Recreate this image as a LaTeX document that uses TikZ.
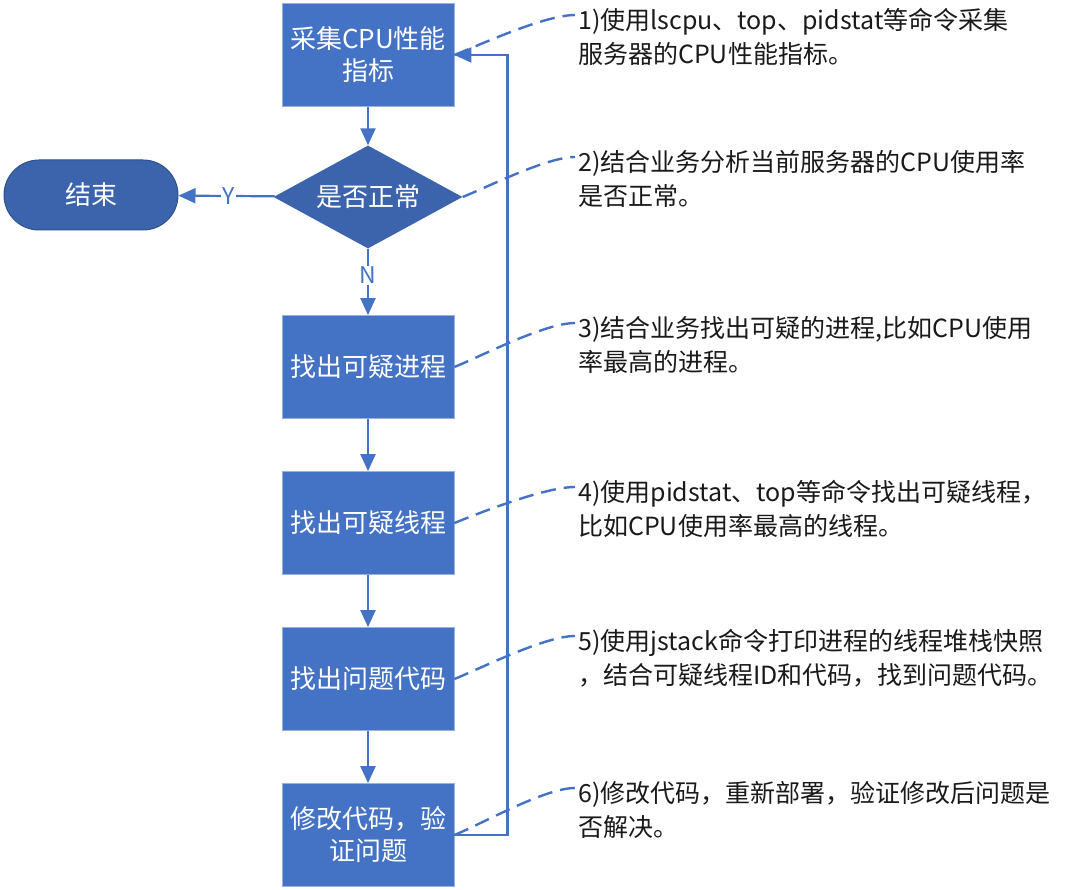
\documentclass[tikz,border=0pt]{standalone}
\usepackage{fontspec}
\setmainfont{Noto Sans CJK SC}
\usepackage{tikz}
\usetikzlibrary{arrows.meta,positioning,shapes.geometric,shapes.misc}
\definecolor{boxblue}{HTML}{4472C4}
\definecolor{deepblue}{HTML}{3C64AD}
\definecolor{rimblue}{HTML}{9BB1DB}
\definecolor{linkblue}{HTML}{4472C4}
\definecolor{ink}{HTML}{1A1A1A}

\begin{document}
\begin{tikzpicture}[x=1pt,y=-1pt,
  stepbox/.style={rectangle,fill=boxblue,draw=rimblue,line width=0.8pt,text=white,
    minimum width=172pt,minimum height=103pt,inner sep=0pt,align=center,
    font=\fontsize{26}{32}\selectfont},
  check/.style={diamond,fill=deepblue,text=white,minimum width=189pt,
    minimum height=103pt,inner sep=0pt,aspect=1.84,font=\fontsize{26}{32}\selectfont},
  stop/.style={rounded rectangle,fill=deepblue,draw=deepblue!80!black,line width=1pt,
    text=white,minimum width=174pt,minimum height=70pt,inner sep=0pt,
    font=\fontsize{26}{32}\selectfont},
  flow/.style={-{Triangle[length=17pt,width=15pt]},line width=2.2pt,linkblue},
  callout/.style={linkblue,line width=2.4pt,dash pattern=on 15pt off 8pt},
  note/.style={anchor=north west,inner sep=0pt,align=left,text=ink,
    font=\fontsize{25}{34}\selectfont},
  lab/.style={fill=white,inner sep=1pt,text=linkblue,font=\fontsize{23}{23}\selectfont}]
  \fill[white] (0,0) rectangle (1080,890);
  \useasboundingbox (0,0) rectangle (1080,890);
  % flow steps
  \node[stepbox] (n1) at (368,55) {采集CPU性能\\指标};
  \node[check] (n2) at (368,197) {是否正常};
  \node[stop] (n0) at (91,195) {结束};
  \node[stepbox] (n3) at (368,367) {找出可疑进程};
  \node[stepbox] (n4) at (368,523) {找出可疑线程};
  \node[stepbox] (n5) at (368,679) {找出问题代码};
  \node[stepbox] (n6) at (368,835) {修改代码，验\\证问题};
  % notes
  \node[note] (t1) at (578,8) {1)使用lscpu、top、pidstat等命令采集\\服务器的CPU性能指标。};
  \node[note] (t2) at (578,150) {2)结合业务分析当前服务器的CPU使用率\\是否正常。};
  \node[note] (t3) at (578,316) {3)结合业务找出可疑的进程,比如CPU使用\\率最高的进程。};
  \node[note] (t4) at (578,480) {4)使用pidstat、top等命令找出可疑线程，\\比如CPU使用率最高的线程。};
  \node[note] (t5) at (578,629) {5)使用jstack命令打印进程的线程堆栈快照\\，结合可疑线程ID和代码，找到问题代码。};
  \node[note] (t6) at (578,781) {6)修改代码，重新部署，验证修改后问题是\\否解决。};
  % arrows
  \draw[flow] (n1) -- (n2);
  \draw[flow] (n2) -- node[lab,pos=0.48]{Y} (n0);
  \draw[flow] (n2) -- node[lab,pos=0.4]{N} (n3);
  \draw[flow] (n3) -- (n4);
  \draw[flow] (n4) -- (n5);
  \draw[flow] (n5) -- (n6);
  \draw[flow] (n6.east) -- ++(53,0) |- (n1.east);
  % callouts
  \foreach \b/\t in {n1/t1,n2/t2,n3/t3,n4/t4,n5/t5,n6/t6}
    \draw[callout] (\b.east) to[out=22,in=180,looseness=0.6]
      ([xshift=-3pt,yshift=-7pt]\t.north west);
\end{tikzpicture}
\end{document}
